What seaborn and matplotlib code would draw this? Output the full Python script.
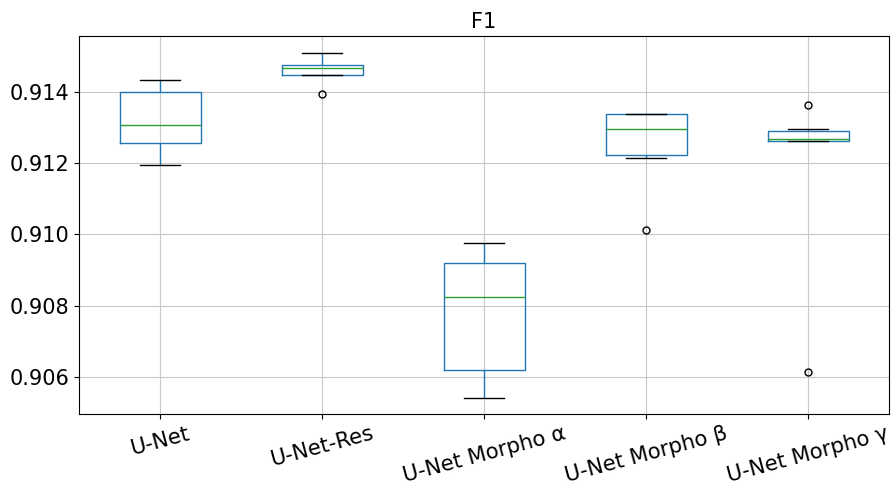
import pandas as pd
import matplotlib
matplotlib.use("Agg")
import matplotlib.pyplot as plt
import seaborn as sns

# F1 scores per run
models = ["U-Net", "U-Net-Res", "U-Net Morpho α", "U-Net Morpho β", "U-Net Morpho γ"]
unet = [0.91195, 0.91258, 0.91307, 0.91400, 0.91435]
unet_res = [0.91394, 0.91448, 0.91467, 0.91477, 0.91510]
morpho_a = [0.90540, 0.90619, 0.90824, 0.90920, 0.90975]
morpho_b = [0.91012, 0.91215, 0.91231, 0.91295, 0.91336, 0.91338, 0.91338]
morpho_g = [0.90614, 0.91262, 0.91262, 0.91269, 0.91285, 0.91295, 0.91363]

rows = []
for name, vals in zip(models, [unet, unet_res, morpho_a, morpho_b, morpho_g]):
    for v in vals:
        rows.append({"model": name, "F1": v})
df = pd.DataFrame(rows)

fig = plt.figure(figsize=(8.91, 4.88), dpi=100)
ax = fig.add_axes([0.0887, 0.152, 0.9091, 0.774])

sns.boxplot(x="model", y="F1", data=df, order=models, ax=ax,
            fill=False, color="C0", width=0.5, linewidth=1,
            boxprops=dict(color="C0"),
            whiskerprops=dict(color="C0"),
            capprops=dict(color="black"),
            medianprops=dict(color="C2"),
            flierprops=dict(marker="o", markerfacecolor="none",
                            markeredgecolor="black", markersize=5))

ax.set_ylim(0.90496, 0.91557)
ax.set_yticks([0.906, 0.908, 0.910, 0.912, 0.914])
ax.grid(True, color="#c8c8c8", linewidth=0.8)
ax.set_axisbelow(True)
ax.set_xlabel("")
ax.set_ylabel("")
ax.set_title("F1", fontsize=15)
ax.tick_params(axis="y", labelsize=15)
ax.tick_params(axis="x", labelsize=15.3, labelrotation=15)

plt.savefig("out.png", dpi=100)
